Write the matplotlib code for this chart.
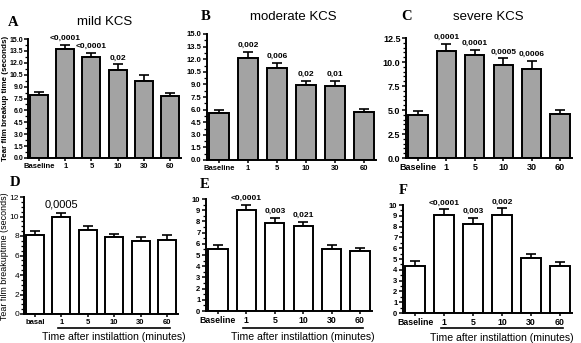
import numpy as np
import matplotlib
matplotlib.use("Agg")
from matplotlib import pyplot as plt
from matplotlib.ticker import MultipleLocator, FormatStrFormatter

plt.rcParams["font.family"] = ["Liberation Sans", "DejaVu Sans"]

# Data
labels_top = ["Baseline", "1", "5", "10", "30", "60"]
labels_d = ["basal", "1", "5", "10", "30", "60"]

mild_mean = [7.95, 13.75, 12.7, 11.05, 9.75, 7.8]
mild_err = [0.4, 0.55, 0.5, 0.75, 0.65, 0.4]
mild_p = ["", "<0,0001", "<0,0001", "0,02", "", ""]

moderate_mean = [5.6, 12.2, 11.0, 8.95, 8.85, 5.75]
moderate_err = [0.35, 0.7, 0.6, 0.5, 0.55, 0.35]
moderate_p = ["", "0,002", "0,006", "0,02", "0,01", ""]

severe_mean = [4.45, 11.15, 10.7, 9.65, 9.3, 4.6]
severe_err = [0.42, 0.75, 0.6, 0.72, 0.8, 0.37]
severe_p = ["", "0,0001", "0,0001", "0,0005", "0,0006", ""]

d_mean = [8.07, 9.95, 8.58, 7.86, 7.52, 7.55]
d_err = [0.43, 0.45, 0.48, 0.38, 0.41, 0.55]
d_p = ["", "0,0005", "", "", "", ""]

e_mean = [5.5, 9.05, 7.85, 7.6, 5.55, 5.34]
e_err = [0.4, 0.42, 0.45, 0.34, 0.33, 0.3]
e_p = ["", "<0,0001", "0,003", "0,021", "", ""]

f_mean = [4.38, 9.12, 8.28, 9.03, 5.1, 4.38]
f_err = [0.4, 0.48, 0.52, 0.67, 0.37, 0.32]
f_p = ["", "<0,0001", "0,003", "0,002", "", ""]

W, H = 581, 343
fig = plt.figure(figsize=(W / 100, H / 100), dpi=100)


def add_ax(l, r, t, b):
    return fig.add_axes([l / W, 1 - b / H, (r - l) / W, (b - t) / H])


def panel(ax, means, errs, pvals, labels, color, ymax, major, minor,
          ylab_bold=True, pfont=6, pweight="bold"):
    x = np.arange(len(means))
    ax.bar(x, means, width=0.68, color=color, edgecolor="black", linewidth=1.4, zorder=2)
    ax.errorbar(x, means, yerr=[np.zeros(len(errs)), errs], fmt="none",
                ecolor="black", elinewidth=1.2, capsize=3.5, capthick=1.2, zorder=1)
    for xi, m, e, p in zip(x, means, errs, pvals):
        if p:
            ax.text(xi, m + e + ymax * 0.025, p, ha="center", va="bottom",
                    fontsize=pfont, fontweight=pweight)
    ax.set_xlim(-0.42, 5.42)
    ax.set_ylim(0, ymax)
    ax.yaxis.set_major_locator(MultipleLocator(major))
    ax.yaxis.set_minor_locator(MultipleLocator(minor))
    ax.set_xticks(x)
    ax.set_xticklabels(labels, fontsize=5.5, fontweight="bold")
    for s in ["top", "right"]:
        ax.spines[s].set_visible(False)
    for s in ["left", "bottom"]:
        ax.spines[s].set_linewidth(1.4)
    ax.tick_params(axis="y", which="major", length=3, width=1.1, pad=1,
                   labelsize=5.5)
    ax.tick_params(axis="y", which="minor", length=2, width=0.9)
    ax.tick_params(axis="x", length=2.5, width=1.1, pad=1)
    for lab in ax.get_yticklabels():
        lab.set_fontweight("bold" if ylab_bold else "normal")


gray = "#a3a3a3"

axA = add_ax(28, 181, 39, 158)
panel(axA, mild_mean, mild_err, mild_p, labels_top, gray, 15, 1.5, 0.75)
axA.yaxis.set_major_formatter(FormatStrFormatter("%.1f"))
axA.tick_params(axis="y", labelsize=5.0, pad=0.5)
for lab in axA.get_yticklabels():
    lab.set_fontweight("bold")
fig.text(5.5 / W, 1 - 98 / H, "Tear film breakup time (seconds)", rotation=90,
         ha="center", va="center", fontsize=5.8, fontweight="bold")

axB = add_ax(207, 376, 34, 160)
panel(axB, moderate_mean, moderate_err, moderate_p, labels_top, gray, 15, 1.5, 0.75)
axB.yaxis.set_major_formatter(FormatStrFormatter("%.1f"))
for lab in axB.get_yticklabels():
    lab.set_fontweight("bold")

axC = add_ax(406, 572, 38, 158)
panel(axC, severe_mean, severe_err, severe_p, labels_top, gray, 12.5, 2.5, 0.5)
axC.yaxis.set_major_formatter(FormatStrFormatter("%.1f"))
axC.tick_params(axis="both", labelsize=6.5)
for lab in axC.get_yticklabels() + axC.get_xticklabels():
    lab.set_fontweight("bold")

axD = add_ax(24, 178, 197, 314)
panel(axD, d_mean, d_err, d_p, labels_d, "white", 12, 2, 0.5,
      ylab_bold=False, pfont=8, pweight="normal")
axD.tick_params(axis="y", labelsize=6.0, pad=0.5)
fig.text(5 / W, 1 - 256 / H, "Tear film breakuptime (seconds)", rotation=90,
         ha="center", va="center", fontsize=6.4)

axE = add_ax(206, 372, 199, 311)
panel(axE, e_mean, e_err, e_p, labels_top, "white", 10, 1, 0.5)
axE.tick_params(axis="x", labelsize=6.3)

axF = add_ax(403, 572, 205, 313)
panel(axF, f_mean, f_err, f_p, labels_top, "white", 10, 1, 0.5)
axF.tick_params(axis="x", labelsize=6.3)

# titles and panel letters
for title, tx, ty in [("mild KCS", 105, 22), ("moderate KCS", 293, 17),
                      ("severe KCS", 488, 17)]:
    fig.text(tx / W, 1 - ty / H, title, ha="center", va="center", fontsize=9.5)

for letter, xl, yl in [("A", 13, 22), ("B", 206, 17), ("C", 407, 17),
                       ("D", 15, 183), ("E", 205, 184), ("F", 403, 190)]:
    fig.text(xl / W, 1 - yl / H, letter, ha="center", va="center", fontsize=10.5,
             fontweight="bold", family="Liberation Serif")

# "Time after instillation" brackets
for ax, yline, ytext in [(axD, 328, 337), (axE, 328, 337), (axF, 328, 338)]:
    pos = ax.get_position()
    x0 = pos.x0 + (1 + 0.42 - 0.12) / 5.84 * pos.width
    x1 = pos.x0 + (5 + 0.42 + 0.12) / 5.84 * pos.width
    fig.add_artist(plt.Line2D([x0, x1], [1 - yline / H, 1 - yline / H],
                              color="black", linewidth=1.2))
    fig.text((x0 + x1) / 2, 1 - ytext / H, "Time after instilattion (minutes)",
             ha="center", va="center", fontsize=7.6)

fig.savefig("out.png", dpi=100)
